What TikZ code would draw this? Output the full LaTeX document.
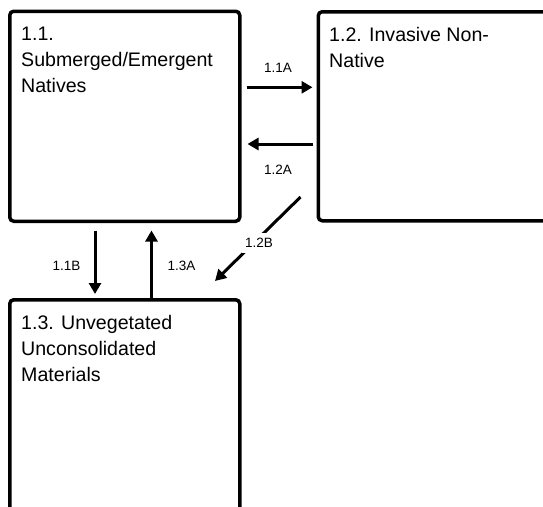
\documentclass[tikz,border=0pt]{standalone}
\usepackage{fontspec}
\setmainfont{Liberation Sans}
\usetikzlibrary{arrows.meta}
\begin{document}
\begin{tikzpicture}[x=1pt,y=-1pt,
  box/.style={draw=black, line width=3.5pt, rounded corners=4pt, fill=white, inner sep=0pt, anchor=north west},
  boxtext/.style={anchor=north west, inner sep=0pt, align=left, font=\fontsize{19.6}{26}\selectfont},
  lbl/.style={inner sep=1.5pt, fill=white, font=\fontsize{13.5}{15}\selectfont},
  arr/.style={line width=3pt, -{Triangle[length=11pt,width=12pt]}}]
\useasboundingbox (0,0) rectangle (543,506);
\clip (0,0) rectangle (543,506);
\node[box, minimum width=230pt, minimum height=210pt] (b11) at (8,9.5) {};
\node[box, minimum width=260pt, minimum height=209pt] (b12) at (316.5,10) {};
\node[box, minimum width=230pt, minimum height=260pt] (b13) at (8,298) {};
\node[boxtext] (t11) at (21,27.3) {1.1.\\Submerged/Emergent\\Natives};
\node[boxtext] (t12) at (329,27.3) {1.2. Invasive Non-\\Native};
\node[boxtext] (t13) at (21,315) {1.3. Unvegetated\\Unconsolidated\\Materials};
% arrows
\draw[arr] ([shift={(5,77.8)}]b11.north east) -- ([shift={(-4,77.3)}]b12.north west);
\draw[arr] ([shift={(-4,134)}]b12.north west) -- ([shift={(6,134.5)}]b11.north east);
\coordinate (c12b) at ([shift={(-16,187)}]b12.north west);
\coordinate (c13b) at ([shift={(207,-17)}]b13.north west);
\draw[arr] (c12b) -- (c13b);
\draw[arr] ([shift={(87,7.5)}]b11.south west) -- ([shift={(87,-4)}]b13.north west);
\draw[arr] ([shift={(143.5,0)}]b13.north west) -- ([shift={(143.5,7.5)}]b11.south west);
% labels
\node[lbl] (l11a) at (278,68) {1.1A};
\node[lbl] (l12a) at (278,170) {1.2A};
\node[lbl, inner xsep=3pt, inner ysep=5pt] (l12b) at (259,243) {1.2B};
\node[lbl] (l11b) at (66.5,265.5) {1.1B};
\node[lbl] (l13a) at (181.5,265.5) {1.3A};
\end{tikzpicture}
\end{document}
